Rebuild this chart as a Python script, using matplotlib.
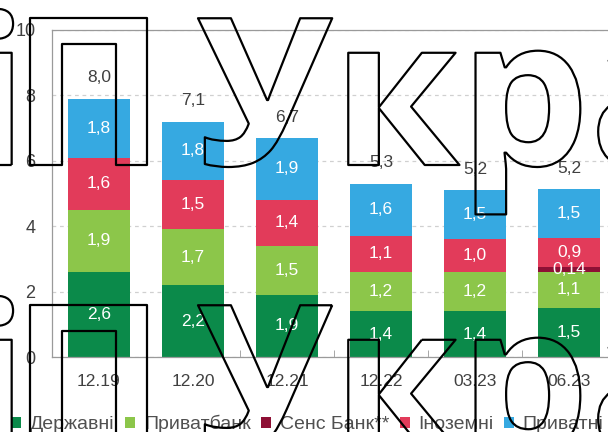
import numpy as np
import matplotlib
matplotlib.use("Agg")
import matplotlib.pyplot as plt
from matplotlib import patheffects as pe
from matplotlib.patches import Patch

plt.rcParams['font.family'] = ['Liberation Sans', 'DejaVu Sans']

# Dates (end of period) and stacked series, bottom to top
periods = ["12.19", "12.20", "12.21", "12.22", "03.23", "06.23"]
state_banks = [2.6, 2.2, 1.9, 1.4, 1.4, 1.5]
privatbank = [1.9, 1.7, 1.5, 1.2, 1.2, 1.1]
sense_bank = [0.0, 0.0, 0.0, 0.0, 0.0, 0.14]
foreign_banks = [1.6, 1.5, 1.4, 1.1, 1.0, 0.9]
private_banks = [1.8, 1.8, 1.9, 1.6, 1.5, 1.5]
totals = [8.0, 7.1, 6.7, 5.3, 5.2, 5.2]

series_names = ["Державні", "Приватбанк", "Сенс Банк**", "Іноземні", "Приватні"]
series_colors = ["#0b8a4a", "#8cc64a", "#8e1035", "#e23b5a", "#36a9e1"]
yticks = [0, 2, 4, 6, 8, 10]

W, H = 608, 432
fig = plt.figure(figsize=(W / 100, H / 100), dpi=100)
ax = fig.add_axes([52 / W, 75 / H, 564 / W, 327 / H])

x = np.arange(len(periods))
series = [state_banks, privatbank, sense_bank, foreign_banks, private_banks]
bottom = np.zeros(len(periods))
for vals, name, col in zip(series, series_names, series_colors):
    vals = np.array(vals, dtype=float)
    ax.bar(x, vals, 0.65, bottom=bottom, color=col, label=name, zorder=2)
    for xi, v, b in zip(x, vals, bottom):
        if v > 0:
            txt = f"{v:.2f}" if v < 0.5 else f"{v:.1f}"
            ax.text(xi, b + v / 2, txt.replace(".", ","), ha="center",
                    va="center", color="white", fontsize=12.5, zorder=3)
    bottom += vals

for xi, b, t in zip(x, bottom, totals):
    ax.annotate(f"{t:.1f}".replace(".", ","), (xi, b), xytext=(0, 15),
                textcoords="offset points", ha="center", va="center",
                color="#404040", fontsize=12.5)

ax.set_xlim(-0.5, len(periods) - 0.5)
ax.set_ylim(0, 10)
ax.set_yticks(yticks)
ax.set_yticklabels([str(t) for t in yticks])
ax.set_xticks(x)
ax.set_xticklabels(periods)
ax.set_xticks(x[:-1] + 0.5, minor=True)
ax.tick_params(axis="y", length=0, pad=12, labelsize=13, labelcolor="#404040")
ax.tick_params(axis="x", which="major", length=0, pad=12, labelsize=12.5,
               labelcolor="#404040")
ax.tick_params(axis="x", which="minor", direction="in", length=5,
               color="#999999")
ax.yaxis.grid(True, linestyle=(0, (3, 3)), color="#d0d0d0", linewidth=0.9,
              zorder=0)
ax.set_axisbelow(True)
for side in ["left", "bottom", "top"]:
    ax.spines[side].set_color("#9a9a9a")
    ax.spines[side].set_linewidth(0.9)
ax.spines["right"].set_visible(False)

handles = [Patch(facecolor=c, edgecolor="none") for c in series_colors]
fig.legend(handles, series_names, loc="lower left",
           bbox_to_anchor=(0.0, -0.03), ncol=5, frameon=False, fontsize=14,
           handlelength=0.5, handleheight=0.5, handletextpad=0.45,
           columnspacing=0.55, labelcolor="#505050", borderaxespad=0.2)

# Outlined site watermark across the figure
wm = dict(fontsize=148, family="Open Sans", fontweight="bold", color="none",
          zorder=20,
          path_effects=[pe.withStroke(linewidth=1.6, foreground="black")])
for base in (165, 452):
    yb = (H - base) / H
    fig.text(-35 / W, yb, "і", ha="left", va="baseline", **wm)
    fig.text(12 / W, yb, "П", ha="left", va="baseline", **wm)
    fig.text(198 / W, yb, "Україна", ha="left", va="baseline", **wm)

fig.savefig("out.png", dpi=100)
